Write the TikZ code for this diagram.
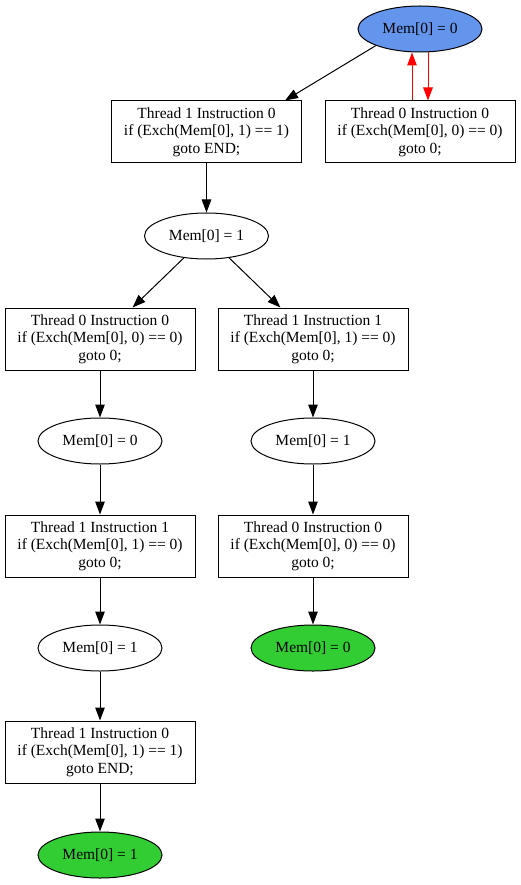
\documentclass[tikz,border=0pt]{standalone}
\usepackage{fontspec}
\setmainfont{Liberation Serif}
\usetikzlibrary{shapes.geometric,arrows.meta}
\definecolor{gvblue}{HTML}{6495ED}
\definecolor{gvgreen}{HTML}{32CD32}
\begin{document}
\begin{tikzpicture}[x=1pt,y=-1pt,
  every node/.style={font=\fontsize{15.5}{17.5}\selectfont, line width=1pt},
  state/.style={draw, ellipse, minimum width=124pt, minimum height=46pt, inner sep=0pt},
  instr/.style={draw, rectangle, minimum width=190pt, minimum height=62pt, inner sep=0pt, align=center},
  edge/.style={line width=1pt, -{Triangle[length=13pt,width=9.5pt]}},
  redge/.style={edge, draw=red, fill=red}]
\useasboundingbox (0,0) rectangle (520,885);
% nodes
\node[state, fill=gvblue] (s0) at (420,29) {Mem[0] = 0};
\node[instr] (a) at (206.5,132) {Thread 1 Instruction 0\\if (Exch(Mem[0], 1) == 1)\\goto END;};
\node[instr] (b) at (420,132) {Thread 0 Instruction 0\\if (Exch(Mem[0], 0) == 0)\\goto 0;};
\node[state] (s1) at (206.5,236) {Mem[0] = 1};
\node[instr] (c) at (100,339) {Thread 0 Instruction 0\\if (Exch(Mem[0], 0) == 0)\\goto 0;};
\node[instr] (d) at (313,339) {Thread 1 Instruction 1\\if (Exch(Mem[0], 1) == 0)\\goto 0;};
\node[state] (s2) at (100,441) {Mem[0] = 0};
\node[state] (s3) at (313,441) {Mem[0] = 1};
\node[instr] (e) at (100,546) {Thread 1 Instruction 1\\if (Exch(Mem[0], 1) == 0)\\goto 0;};
\node[instr] (f) at (313,546) {Thread 0 Instruction 0\\if (Exch(Mem[0], 0) == 0)\\goto 0;};
\node[state] (s4) at (100,648) {Mem[0] = 1};
\node[state, fill=gvgreen] (s5) at (313,648) {Mem[0] = 0};
\node[instr] (g) at (100,752) {Thread 1 Instruction 0\\if (Exch(Mem[0], 1) == 1)\\goto END;};
\node[state, fill=gvgreen] (s6) at (100,855) {Mem[0] = 1};
% edges
\draw[edge] (s0.south west) -- ([xshift=-17pt]a.north east);
\draw[redge] ([xshift=-8pt]b.north) -- ([xshift=-8pt]s0.south);
\draw[redge] ([xshift=8pt]s0.south) -- ([xshift=8pt]b.north);
\draw[edge] (a) -- (s1);
\draw[edge] (s1) -- (c);
\draw[edge] (s1) -- (d);
\draw[edge] (c) -- (s2);
\draw[edge] (d) -- (s3);
\draw[edge] (s2) -- (e);
\draw[edge] (s3) -- (f);
\draw[edge] (e) -- (s4);
\draw[edge] (f) -- (s5);
\draw[edge] (s4) -- (g);
\draw[edge] (g) -- (s6);
\end{tikzpicture}
\end{document}
